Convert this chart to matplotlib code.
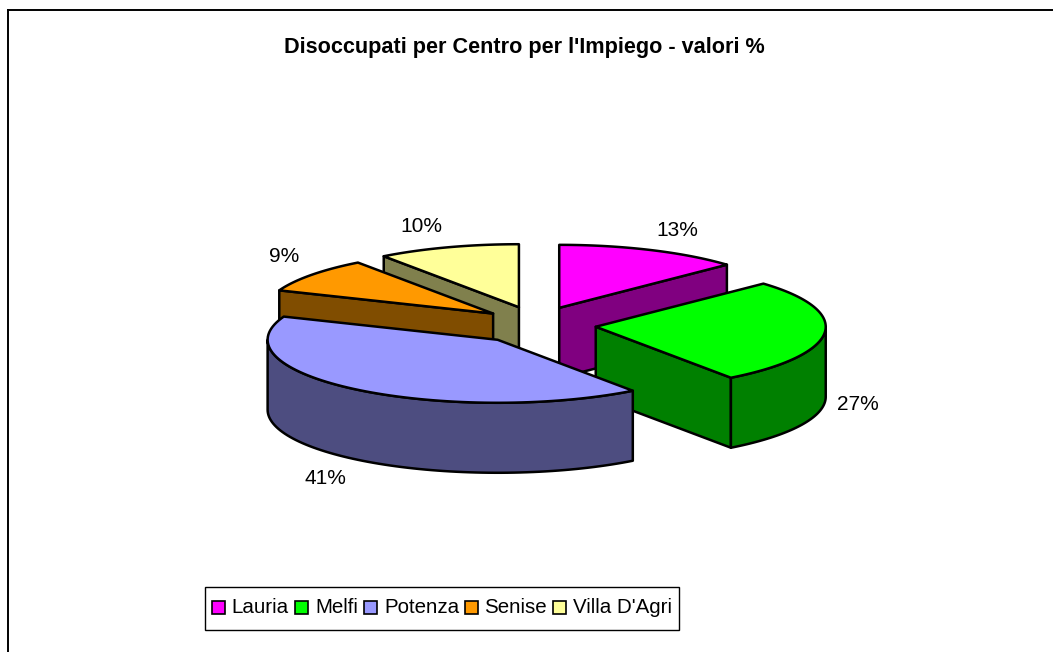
import matplotlib
matplotlib.use("Agg")
import matplotlib.pyplot as plt
from matplotlib.patches import Polygon, Rectangle
import numpy as np

# Dati
centri = ["Lauria", "Melfi", "Potenza", "Senise", "Villa D'Agri"]
valori = [13, 27, 41, 9, 10]
colori = ["#FF00FF", "#00FF00", "#9999FF", "#FF9900", "#FFFF99"]
colori_scuri = ["#800080", "#008000", "#4D4D80", "#804D00", "#80804D"]

plt.rcParams['font.family'] = ['Liberation Sans', 'DejaVu Sans']

# geometria della torta in pixel
cx, cy = 535, 325
a, b = 230, 63
expl_x = [61, 61, 61, 53, 52]
expl_y = 18.7
depth = 70

pos_etichette = [(677, 230), (858, 404), (325, 479), (284, 257), (421, 227)]
ordine = [0, 4, 3, 1, 2]  # dal fondo verso il davanti

fig = plt.figure(figsize=(10.53, 6.52), dpi=100)
ax = fig.add_axes([0, 0, 1, 1])
ax.set_xlim(0, 1053)
ax.set_ylim(652, 0)
ax.axis("off")

# bordo del grafico
ax.plot([8, 8], [652, 10], color="black", lw=1.4)
ax.plot([8, 1053], [10, 10], color="black", lw=1.4)


def punto(t, x0, y0):
    return x0 + a * np.sin(t), y0 - b * np.cos(t)


def disegna_fetta(i, t0, t1):
    mid = (t0 + t1) / 2
    x0 = cx + expl_x[i] * np.sin(mid)
    y0 = cy - expl_y * np.cos(mid)
    t = np.linspace(t0, t1, 80)
    xs, ys = punto(t, x0, y0)
    kw = dict(edgecolor="black", lw=1.8, joinstyle="round")

    # solo le facce radiali rivolte verso chi guarda
    if np.sin(t0) < -1e-6:
        facce = [t0]
    elif np.sin(t1) > 1e-6:
        facce = [t1]
    else:
        facce = []
    for v in facce:
        xe, ye = punto(v, x0, y0)
        quad = [(x0, y0), (xe, ye), (xe, ye + depth), (x0, y0 + depth)]
        ax.add_patch(Polygon(quad, facecolor=colori_scuri[i], **kw))

    # bordo esterno, solo la parte davanti
    r0, r1 = max(t0, np.pi / 2), min(t1, 3 * np.pi / 2)
    if r1 > r0:
        xr, yr = punto(np.linspace(r0, r1, 80), x0, y0)
        rim = np.column_stack([np.r_[xr, xr[::-1]], np.r_[yr, yr[::-1] + depth]])
        ax.add_patch(Polygon(rim, facecolor=colori_scuri[i], **kw))

    # faccia superiore
    top = np.column_stack([np.r_[x0, xs], np.r_[y0, ys]])
    ax.add_patch(Polygon(top, facecolor=colori[i], **kw))


cum = np.cumsum([0] + valori) / sum(valori) * 2 * np.pi
for i in ordine:
    disegna_fetta(i, cum[i], cum[i + 1])

for v, (x, y) in zip(valori, pos_etichette):
    ax.text(x, y, f"{v}%", fontsize=15, ha="center", va="center", color="black")

ax.text(524, 48, "Disoccupati per Centro per l'Impiego - valori %", fontsize=15.6,
        fontweight="bold", ha="center", va="center")

# legenda
ax.add_patch(Rectangle((205, 587), 474, 43, facecolor="white", edgecolor="black", lw=1.0))
x_quad = [212, 295, 364, 465, 553]
x_testo = [231, 315, 384, 484, 573]
for nome, col, x, xt in zip(centri, colori, x_quad, x_testo):
    ax.add_patch(Rectangle((x, 601), 13, 13, facecolor=col, edgecolor="black", lw=1.2))
    ax.text(xt, 607.5, nome, fontsize=14.8, ha="left", va="center")

fig.savefig("out.png", dpi=100, facecolor="white")
